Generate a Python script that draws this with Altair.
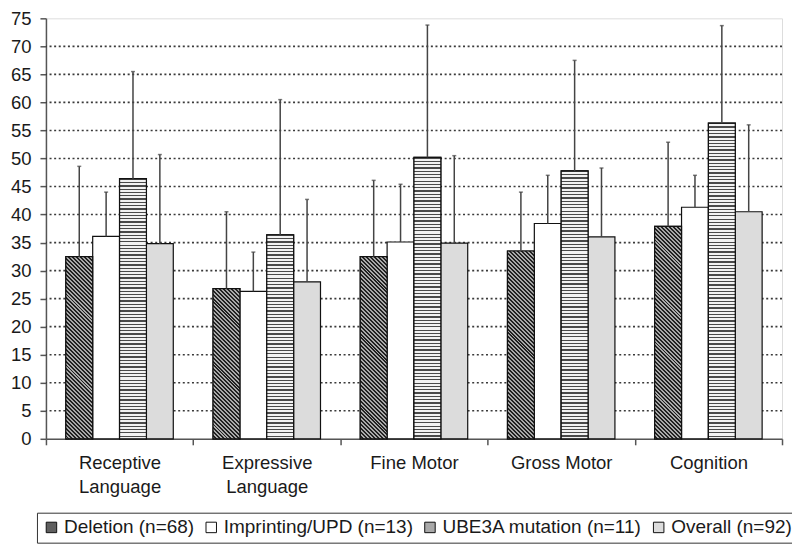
import math
import altair as alt
import pandas as pd

# ---------------- data ----------------
categories = ["Receptive Language", "Expressive Language", "Fine Motor", "Gross Motor", "Cognition"]
series = ["Deletion (n=68)", "Imprinting/UPD (n=13)", "UBE3A mutation (n=11)", "Overall (n=92)"]

deletion_mean = [32.5, 26.8, 32.5, 33.5, 37.9]
imprinting_mean = [36.1, 26.3, 35.1, 38.4, 41.3]
ube3a_mean = [46.4, 36.4, 50.2, 47.8, 56.3]
overall_mean = [34.8, 28.0, 34.9, 36.0, 40.5]

deletion_sd = [16.1, 13.7, 13.6, 10.5, 15.0]
imprinting_sd = [7.9, 7.0, 10.3, 8.6, 5.7]
ube3a_sd = [19.1, 24.1, 23.6, 19.7, 17.4]
overall_sd = [15.9, 14.7, 15.6, 12.3, 15.5]

y_ticks = list(range(0, 80, 5))
grid_values = list(range(5, 75, 5))

# ---------------- styling ----------------
series_fill = ["#5f5f5f", "#ffffff", "#a9a9a9", "#dcdcdc"]
FONT = "Liberation Sans"
TEXT = "#1a1a1a"
LINE = "#555555"
W, H = 737, 421
Y_MAX = 75

rows = []
for s, means, sds in zip(series,
                         [deletion_mean, imprinting_mean, ube3a_mean, overall_mean],
                         [deletion_sd, imprinting_sd, ube3a_sd, overall_sd]):
    for c, m, sd in zip(categories, means, sds):
        rows.append({"category": c, "series": s, "mean": m, "upper": round(m + sd, 2)})
df = pd.DataFrame(rows)
grid_df = pd.DataFrame({"level": grid_values})

y_scale = alt.Scale(domain=[0, Y_MAX], nice=False, zero=True)
y_axis = alt.Axis(title=None, values=y_ticks, grid=False, labelFontSize=18.5)
x_enc = alt.X(
    "category:N", sort=categories,
    scale=alt.Scale(domain=categories, paddingInner=0, paddingOuter=0),
    axis=alt.Axis(
        title=None, labelAngle=0, tickBand="extent", grid=False, labelFontSize=18.5,
        labelLineHeight=24,
        labelExpr="indexof(datum.label, 'Language') > 0 ? split(datum.label, ' ') : datum.label",
    ),
)
xoff = alt.XOffset("series:N", sort=series,
                   scale=alt.Scale(domain=series, paddingInner=0, paddingOuter=0.74))
y_enc = alt.Y("mean:Q", scale=y_scale, axis=y_axis)

base = alt.Chart(df)

grid = alt.Chart(grid_df).mark_rule(color="#3a3a3a", strokeWidth=1.6, strokeDash=[2, 2.6]).encode(
    y=alt.Y("level:Q", scale=y_scale, axis=y_axis)
)

bars = base.mark_bar(stroke="#111111", strokeWidth=1.2).encode(
    x=x_enc, xOffset=xoff, y=y_enc,
    fill=alt.Fill(
        "series:N", sort=series,
        scale=alt.Scale(domain=series, range=series_fill),
        legend=alt.Legend(
            title=None, orient="none", legendX=-9, legendY=495, direction="horizontal",
            strokeColor="#333333", padding=5, labelFontSize=19, labelFont=FONT,
            labelColor=TEXT, symbolType="square", symbolSize=110, labelLimit=400,
            symbolStrokeColor="#111111", symbolStrokeWidth=1, columnPadding=7,
            labelOffset=3,
        ),
    ),
)


def stripe_stops(n, dark, light, frac):
    stops = []
    for i in range(n):
        a = i / n
        b = (i + frac) / n
        e = (i + 1) / n
        stops += [alt.GradientStop(offset=a, color=dark), alt.GradientStop(offset=b, color=dark),
                  alt.GradientStop(offset=b, color=light), alt.GradientStop(offset=e, color=light)]
    return stops


bar_w = W / len(categories) / (len(series) + 2 * 0.74)
overlays = []
for c, m_del, m_ube in zip(categories, deletion_mean, ube3a_mean):
    # horizontal lines for UBE3A
    h = m_ube / Y_MAX * H
    n = max(1, round(h / 3.3))
    grad = alt.LinearGradient(gradient="linear", stops=stripe_stops(n, "#4a4a4a", "#f2f2f2", 0.38),
                              x1=0, y1=0, x2=0, y2=1)
    overlays.append(
        base.transform_filter((alt.datum.category == c) & (alt.datum.series == series[2]))
        .mark_bar(fill=grad, stroke="#111111", strokeWidth=1.2)
        .encode(x=x_enc, xOffset=xoff, y=y_enc)
    )
    # diagonal hatch for Deletion
    h = m_del / Y_MAX * H
    wb = bar_w
    a = (wb + h) * wb / (wb * wb + h * h)
    n = max(1, round((wb + h) / math.sqrt(2) / 2.8))
    grad = alt.LinearGradient(gradient="linear", stops=stripe_stops(n, "#222222", "#a9a9a9", 0.5),
                              x1=1, y1=0, x2=1 - a, y2=a * h / wb)
    overlays.append(
        base.transform_filter((alt.datum.category == c) & (alt.datum.series == series[0]))
        .mark_bar(fill=grad, stroke="#111111", strokeWidth=1.2)
        .encode(x=x_enc, xOffset=xoff, y=y_enc)
    )

err_line = base.mark_rule(color="#444444", strokeWidth=1.5).encode(
    x=x_enc, xOffset=xoff, y=y_enc, y2="upper:Q"
)
err_cap = base.mark_tick(color="#444444", thickness=1.5, size=4).encode(
    x=x_enc, xOffset=xoff, y=alt.Y("upper:Q", scale=y_scale, axis=y_axis)
)

chart = (
    alt.layer(grid, bars, *overlays, err_line, err_cap)
    .properties(width=W, height=H, autosize="none",
                padding={"left": 38, "top": 10, "right": 10, "bottom": 106})
    .configure_view(stroke=LINE, strokeWidth=1.5)
    .configure(background="white")
    .configure_axis(
        tickSize=6, tickWidth=1.5, tickColor=LINE, domainColor=LINE, domainWidth=1.5,
        labelPadding=9, labelFont=FONT, labelColor=TEXT, grid=False,
    )
)

chart.save("out.html", embed_options={"renderer": "svg", "actions": False})
